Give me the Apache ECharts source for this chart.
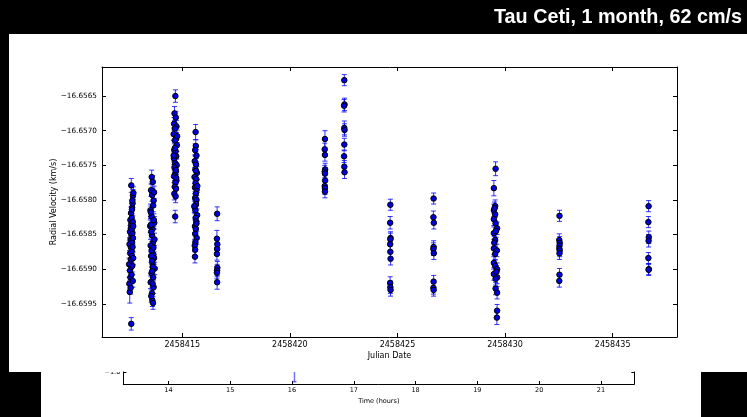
<!DOCTYPE html>
<html><head><meta charset="utf-8">
<script src="https://cdn.jsdelivr.net/npm/echarts@6/dist/echarts.min.js"></script>
<style>html,body{margin:0;padding:0;background:#000}#c{width:747px;height:417px}</style>
</head><body><div id="c"></div>
<script>
// ---- data ----
const julianDate = [
  // night 1
  2458412.53,2458412.54,2458412.55,2458412.56,2458412.57,2458412.57,2458412.58,2458412.59,2458412.59,2458412.60,
  2458412.61,2458412.61,2458412.62,2458412.62,2458412.63,2458412.63,2458412.64,2458412.64,2458412.65,2458412.65,
  2458412.66,2458412.66,2458412.67,2458412.67,2458412.68,2458412.68,2458412.69,2458412.69,2458412.70,2458412.70,
  2458412.71,2458412.71,2458412.72,2458412.72,2458412.73,2458412.63,2458412.63,2458412.60,2458412.66,2458412.68,
  // night 2
  2458413.58,2458413.63,2458413.55,2458413.67,2458413.60,2458413.52,2458413.65,2458413.57,2458413.70,2458413.54,
  2458413.62,2458413.68,2458413.59,2458413.51,2458413.64,2458413.56,2458413.71,2458413.61,2458413.53,2458413.66,
  2458413.69,2458413.58,2458413.62,2458413.55,2458413.72,2458413.60,2458413.57,2458413.65,2458413.63,2458413.53,
  2458413.67,2458413.59,2458413.61,2458413.64,2458413.56,2458413.69,2458413.54,2458413.66,2458413.60,2458413.62,
  // night 3
  2458414.68,2458414.64,2458414.70,2458414.62,2458414.73,2458414.66,2458414.60,2458414.71,2458414.65,2458414.75,
  2458414.63,2458414.69,2458414.72,2458414.61,2458414.67,2458414.74,2458414.64,2458414.70,2458414.66,2458414.62,
  2458414.73,2458414.68,2458414.65,2458414.71,2458414.63,2458414.69,2458414.76,2458414.60,2458414.72,2458414.67,
  2458414.66,2458414.70,
  // night 4
  2458415.62,2458415.63,2458415.60,2458415.66,2458415.58,2458415.64,2458415.61,2458415.68,2458415.57,2458415.65,
  2458415.62,2458415.59,2458415.67,2458415.63,2458415.60,2458415.66,2458415.64,2458415.58,2458415.61,2458415.69,
  2458415.62,2458415.65,2458415.59,2458415.63,2458415.60,2458415.67,2458415.61,2458415.58,2458415.60,2458415.59,
  2458415.70,2458415.56,2458415.66,2458415.64,
  // night 5
  2458416.62,2458416.61,2458416.63,2458416.62,2458416.61,2458416.63,2458416.62,2458416.61,2458416.62,
  // night 6
  2458421.63,2458421.62,2458421.63,2458421.64,2458421.62,2458421.63,2458421.64,2458421.62,2458421.63,2458421.63,
  // night 7
  2458422.53,2458422.54,2458422.52,2458422.53,2458422.54,2458422.53,2458422.52,2458422.53,2458422.54,
  // night 8
  2458424.67,2458424.66,2458424.68,2458424.67,2458424.66,2458424.67,2458424.68,2458424.66,2458424.67,2458424.68,
  // night 9
  2458426.68,2458426.67,2458426.69,2458426.68,2458426.67,2458426.69,2458426.68,2458426.67,2458426.68,
  // night 10
  2458429.56,2458429.48,2458429.54,2458429.48,2458429.54,2458429.48,2458429.56,2458429.63,2458429.48,2458429.54,
  2458429.48,2458429.62,2458429.54,2458429.48,2458429.54,2458429.63,2458429.48,2458429.63,2458429.56,2458429.56,
  2458429.63,2458429.63,2458429.62,2458429.51,2458429.58,2458429.50,2458429.60,
  // night 11
  2458432.53,2458432.52,2458432.54,2458432.53,2458432.52,2458432.54,2458432.53,2458432.53,2458432.52,
  // night 12
  2458436.67,2458436.66,2458436.68,2458436.67,2458436.66,2458436.68,2458436.67
];
const radialVelocity = [
  // night 1
  -16.65893,-16.65921,-16.65864,-16.65933,-16.65846,-16.65902,-16.65877,-16.65829,-16.65912,-16.65858,
  -16.65841,-16.65886,-16.65819,-16.65869,-16.65897,-16.65835,-16.65852,-16.65908,-16.65826,-16.65874,
  -16.65843,-16.65881,-16.65811,-16.65861,-16.65849,-16.65895,-16.65805,-16.65868,-16.65832,-16.65917,
  -16.65794,-16.65855,-16.65838,-16.65884,-16.65790,-16.65779,-16.65979,-16.65927,-16.65814,-16.65801,
  // night 2
  -16.65767,-16.65774,-16.65786,-16.65801,-16.65793,-16.65815,-16.65808,-16.65824,-16.65833,-16.65818,
  -16.65842,-16.65829,-16.65851,-16.65838,-16.65862,-16.65846,-16.65857,-16.65871,-16.65866,-16.65879,
  -16.65884,-16.65873,-16.65892,-16.65881,-16.65899,-16.65888,-16.65906,-16.65912,-16.65897,-16.65919,
  -16.65926,-16.65935,-16.65945,-16.65949,-16.65939,-16.65789,-16.65836,-16.65869,-16.65903,-16.65921,
  // night 3
  -16.65650,-16.65675,-16.65681,-16.65690,-16.65694,-16.65697,-16.65705,-16.65712,-16.65714,-16.65721,
  -16.65728,-16.65730,-16.65737,-16.65740,-16.65747,-16.65750,-16.65753,-16.65759,-16.65763,-16.65766,
  -16.65772,-16.65775,-16.65781,-16.65784,-16.65791,-16.65795,-16.65708,-16.65736,-16.65768,-16.65824,
  -16.65725,-16.65757,
  // night 4
  -16.65702,-16.65722,-16.65728,-16.65736,-16.65744,-16.65749,-16.65756,-16.65761,-16.65767,-16.65770,
  -16.65776,-16.65782,-16.65785,-16.65791,-16.65797,-16.65800,-16.65806,-16.65811,-16.65815,-16.65822,
  -16.65826,-16.65831,-16.65838,-16.65842,-16.65849,-16.65855,-16.65861,-16.65866,-16.65872,-16.65882,
  -16.65780,-16.65809,-16.65834,-16.65758,
  // night 5
  -16.65820,-16.65856,-16.65864,-16.65871,-16.65878,-16.65898,-16.65902,-16.65905,-16.65919,
  // night 6
  -16.65712,-16.65727,-16.65735,-16.65756,-16.65759,-16.65762,-16.65772,-16.65780,-16.65783,-16.65788,
  // night 7
  -16.65627,-16.65662,-16.65664,-16.65696,-16.65699,-16.65720,-16.65737,-16.65752,-16.65760,
  // night 8
  -16.65807,-16.65833,-16.65855,-16.65857,-16.65864,-16.65875,-16.65885,-16.65920,-16.65926,-16.65930,
  // night 9
  -16.65798,-16.65825,-16.65833,-16.65868,-16.65871,-16.65877,-16.65918,-16.65927,-16.65930,
  // night 10
  -16.65755,-16.65783,-16.65809,-16.65815,-16.65821,-16.65828,-16.65834,-16.65841,-16.65848,-16.65858,
  -16.65870,-16.65873,-16.65878,-16.65891,-16.65895,-16.65900,-16.65907,-16.65912,-16.65914,-16.65928,
  -16.65934,-16.65960,-16.65970,-16.65812,-16.65845,-16.65862,-16.65904,
  // night 11
  -16.65823,-16.65858,-16.65862,-16.65866,-16.65870,-16.65873,-16.65877,-16.65908,-16.65917,
  // night 12
  -16.65809,-16.65832,-16.65854,-16.65859,-16.65884,-16.65900,-16.65901
];
const velocityError = [
  // night 1
  0.00009,0.00009,0.00009,0.00016,0.00009,0.00009,0.00009,0.00009,0.00009,0.00009,
  0.00009,0.00009,0.00009,0.00009,0.00009,0.00009,0.00009,0.00009,0.00009,0.00009,
  0.00009,0.00009,0.00009,0.00009,0.00009,0.00009,0.00009,0.00009,0.00009,0.00009,
  0.00009,0.00009,0.00009,0.00009,0.00009,0.00010,0.00009,0.00009,0.00009,0.00009,
  // night 2
  0.00010,0.00009,0.00009,0.00009,0.00009,0.00009,0.00009,0.00009,0.00009,0.00009,
  0.00009,0.00009,0.00009,0.00009,0.00009,0.00009,0.00009,0.00009,0.00009,0.00009,
  0.00009,0.00009,0.00009,0.00009,0.00009,0.00009,0.00009,0.00009,0.00009,0.00009,
  0.00009,0.00009,0.00009,0.00009,0.00009,0.00009,0.00009,0.00009,0.00009,0.00009,
  // night 3
  0.00009,0.00010,0.00009,0.00009,0.00009,0.00009,0.00009,0.00009,0.00009,0.00009,
  0.00009,0.00009,0.00009,0.00009,0.00009,0.00009,0.00009,0.00009,0.00009,0.00009,
  0.00009,0.00009,0.00009,0.00009,0.00009,0.00009,0.00009,0.00009,0.00009,0.00009,
  0.00009,0.00009,
  // night 4
  0.00011,0.00009,0.00009,0.00009,0.00009,0.00009,0.00009,0.00009,0.00009,0.00009,
  0.00009,0.00009,0.00009,0.00009,0.00009,0.00009,0.00009,0.00009,0.00009,0.00009,
  0.00009,0.00009,0.00009,0.00009,0.00009,0.00009,0.00009,0.00009,0.00009,0.00009,
  0.00009,0.00009,0.00009,0.00009,
  // night 5
  0.00010,0.00012,0.00009,0.00009,0.00009,0.00009,0.00009,0.00009,0.00010,
  // night 6
  0.00012,0.00009,0.00009,0.00009,0.00009,0.00009,0.00009,0.00009,0.00009,0.00009,
  // night 7
  0.00008,0.00009,0.00009,0.00010,0.00009,0.00009,0.00009,0.00009,0.00009,
  // night 8
  0.00008,0.00009,0.00009,0.00009,0.00009,0.00009,0.00009,0.00009,0.00009,0.00009,
  // night 9
  0.00008,0.00009,0.00009,0.00009,0.00009,0.00009,0.00009,0.00009,0.00009,
  // night 10
  0.00010,0.00011,0.00009,0.00009,0.00009,0.00009,0.00009,0.00009,0.00009,0.00009,
  0.00009,0.00009,0.00009,0.00009,0.00009,0.00009,0.00009,0.00009,0.00009,0.00009,
  0.00009,0.00009,0.00010,0.00009,0.00009,0.00009,0.00009,
  // night 11
  0.00008,0.00009,0.00009,0.00009,0.00009,0.00009,0.00009,0.00009,0.00009,
  // night 12
  0.00008,0.00008,0.00009,0.00009,0.00008,0.00008,0.00008
];
const jdTicks = [2458415, 2458420, 2458425, 2458430, 2458435];
const rvTicks = [-16.6595, -16.6590, -16.6585, -16.6580, -16.6575, -16.6570, -16.6565];
const hourTicks = [14, 15, 16, 17, 18, 19, 20, 21];
const lowerTicks = [-1.0];
const lowerHours = [16.04];
const lowerLow = [-1.80];
const lowerHigh = [-0.80];
const titleText = 'Tau Ceti, 1 month, 62 cm/s';

// ---- build ----
const FONT = '"DejaVu Sans", "Bitstream Vera Sans", sans-serif';
const scatterData = julianDate.map((x, i) => [x, radialVelocity[i]]);
const errData = julianDate.map((x, i) => [x, radialVelocity[i] - velocityError[i], radialVelocity[i] + velocityError[i]]);
const lowerErr = lowerHours.map((h, i) => [h, lowerLow[i], lowerHigh[i]]);

function errorBar(color, lw, cap) {
  return function (params, api) {
    const cs = params.coordSys;
    const x = api.value(0);
    const pLo = api.coord([x, api.value(1)]);
    const pHi = api.coord([x, api.value(2)]);
    const top = cs.y, bot = cs.y + cs.height;
    const yHi = Math.max(pHi[1], top), yLo = Math.min(pLo[1], bot);
    const style = { stroke: color, lineWidth: lw, fill: null };
    const ch = [{ type: 'line', shape: { x1: pLo[0], y1: yHi, x2: pLo[0], y2: yLo }, style }];
    if (pHi[1] >= top) ch.push({ type: 'line', shape: { x1: pHi[0] - cap, y1: pHi[1], x2: pHi[0] + cap, y2: pHi[1] }, style });
    if (pLo[1] <= bot) ch.push({ type: 'line', shape: { x1: pLo[0] - cap, y1: pLo[1], x2: pLo[0] + cap, y2: pLo[1] }, style });
    return { type: 'group', children: ch };
  };
}
const fmtRv = v => (v < 0 ? '\u2212' : '') + Math.abs(v).toFixed(4);
const axisLineStyle = { color: '#000', width: 1 };
const txt = { fontFamily: FONT, color: '#000' };

const chart = echarts.init(document.getElementById('c'), null, { renderer: 'canvas' });
chart.setOption({
  animation: false,
  backgroundColor: '#000',
  graphic: [
    { type: 'rect', z: -100, silent: true, shape: { x: 9, y: 34, width: 738, height: 338 }, style: { fill: '#fff' } },
    { type: 'rect', z: -100, silent: true, shape: { x: 41, y: 372, width: 660, height: 45 }, style: { fill: '#fff' } },
    { type: 'rect', z: 100, silent: true, shape: { x: 86, y: 362, width: 36, height: 10 }, style: { fill: '#fff' } },
    { type: 'text', z: 100, silent: true, x: 742, y: 18,
      style: { text: titleText, fill: '#fff', font: 'bold 19.8px "Liberation Sans", Arial, sans-serif', align: 'right', verticalAlign: 'middle', textAlign: 'right', textVerticalAlign: 'middle' } }
  ],
  grid: [
    { left: 102, top: 67, width: 575, height: 270 },
    { left: 123.3, top: 372, width: 511, height: 12 }
  ],
  xAxis: [
    { gridIndex: 0, type: 'value', position: 'bottom', min: 2458411.27, max: 2458437.99,
      axisLine: { show: true, onZero: false, lineStyle: axisLineStyle },
      axisTick: { show: true, inside: true, length: 4, customValues: jdTicks, lineStyle: axisLineStyle },
      axisLabel: { customValues: jdTicks, formatter: v => String(Math.round(v)), fontSize: 8, margin: 4, ...txt },
      splitLine: { show: false },
      name: 'Julian Date', nameLocation: 'middle', nameGap: 15, nameMoveOverlap: false, nameTextStyle: { fontSize: 8, ...txt } },
    { gridIndex: 0, type: 'value', position: 'top', min: 2458411.27, max: 2458437.99,
      axisLine: { show: true, onZero: false, lineStyle: axisLineStyle },
      axisTick: { show: true, inside: true, length: 4, customValues: jdTicks, lineStyle: axisLineStyle },
      axisLabel: { show: false }, splitLine: { show: false } },
    { gridIndex: 1, type: 'value', position: 'bottom', min: 13.27, max: 21.54,
      axisLine: { show: true, onZero: false, lineStyle: axisLineStyle },
      axisTick: { show: true, inside: true, length: 3, customValues: hourTicks, lineStyle: axisLineStyle },
      axisLabel: { customValues: hourTicks, fontSize: 6.5, margin: 3, ...txt },
      splitLine: { show: false },
      name: 'Time (hours)', nameLocation: 'middle', nameGap: 14, nameMoveOverlap: false, nameTextStyle: { fontSize: 6.5, ...txt } }
  ],
  yAxis: [
    { gridIndex: 0, type: 'value', position: 'left', min: -16.65998, max: -16.65608,
      axisLine: { show: true, onZero: false, lineStyle: axisLineStyle },
      axisTick: { show: true, inside: true, length: 4, customValues: rvTicks, lineStyle: axisLineStyle },
      axisLabel: { customValues: rvTicks, formatter: fmtRv, fontSize: 7.3, margin: 5, ...txt },
      splitLine: { show: false },
      name: 'Radial Velocity (km/s)', nameLocation: 'middle', nameGap: 44, nameRotate: 90, nameMoveOverlap: false, nameTextStyle: { fontSize: 8, ...txt } },
    { gridIndex: 0, type: 'value', position: 'right', min: -16.65998, max: -16.65608,
      axisLine: { show: true, onZero: false, lineStyle: axisLineStyle },
      axisTick: { show: true, inside: true, length: 4, customValues: rvTicks, lineStyle: axisLineStyle },
      axisLabel: { show: false }, splitLine: { show: false } },
    { gridIndex: 1, type: 'value', position: 'left', min: -2.0, max: -0.95,
      axisLine: { show: true, onZero: false, lineStyle: axisLineStyle },
      axisTick: { show: true, inside: true, length: 3, customValues: lowerTicks, lineStyle: axisLineStyle },
      axisLabel: { customValues: lowerTicks, formatter: v => (v < 0 ? '\u2212' : '') + Math.abs(v).toFixed(1), fontSize: 6.5, margin: 3, ...txt },
      splitLine: { show: false } },
    { gridIndex: 1, type: 'value', position: 'right', min: -2.0, max: -0.95,
      axisLine: { show: true, onZero: false, lineStyle: axisLineStyle },
      axisTick: { show: true, inside: true, length: 3, customValues: lowerTicks, lineStyle: axisLineStyle },
      axisLabel: { show: false }, splitLine: { show: false } }
  ],
  series: [
    { type: 'custom', xAxisIndex: 0, yAxisIndex: 0, data: errData, encode: { x: 0, y: [1, 2] },
      renderItem: errorBar('rgba(0,0,255,0.8)', 1, 2.5), z: 2, silent: true },
    { type: 'scatter', xAxisIndex: 0, yAxisIndex: 0, data: scatterData, symbol: 'circle', symbolSize: 5.5,
      itemStyle: { color: '#0000e0', borderColor: '#000', borderWidth: 1, opacity: 1 }, z: 3, silent: true },
    { type: 'custom', xAxisIndex: 2, yAxisIndex: 2, data: lowerErr, encode: { x: 0, y: [1, 2] },
      renderItem: errorBar('rgba(0,0,255,0.55)', 1.5, 2), z: 2, silent: true }
  ]
});
</script></body></html>
